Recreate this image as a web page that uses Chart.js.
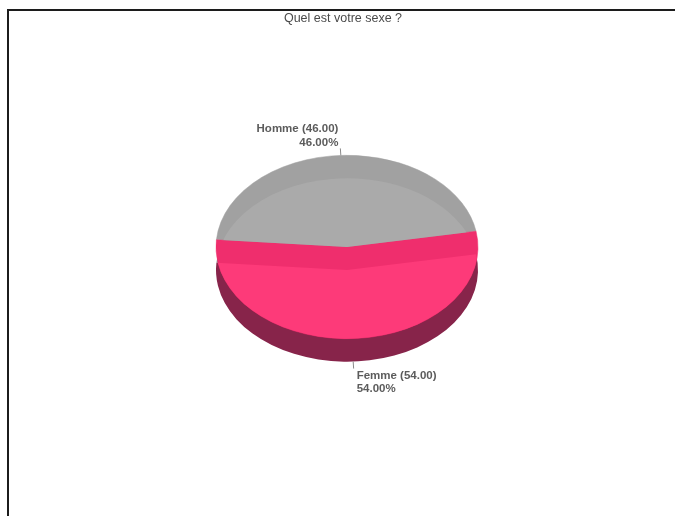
<!DOCTYPE html>
<html>
<head>
<meta charset="utf-8">
<script src="https://cdn.jsdelivr.net/npm/chart.js@4.4.0/dist/chart.umd.min.js"></script>
<style>
html,body{margin:0;padding:0;background:#fff;overflow:hidden}
#frame{position:absolute;left:7px;top:9px;width:668px;height:507px;border-top:2px solid #1c1c1c;border-left:2px solid #1c1c1c;box-sizing:border-box}
#chart{position:absolute;left:0;top:0}
</style>
</head>
<body>
<div id="frame"></div>
<canvas id="chart" width="675" height="516"></canvas>
<script>
// survey question: gender split
const title = "Quel est votre sexe ?";
const labels = ["Homme", "Femme"];
const values = [46, 54];

// face / upper rim / side wall shades per slice
const topColors = ["#aaaaaa", "#fd3a79"];
const rimColors = ["#a1a1a1", "#ef2e6d"];
const sideColors = ["#8e8e8e", "#87244a"];

const TILT = 0.70;  // vertical squash of the disc
const DEPTH = 23;   // slab thickness in px

const total = values.reduce((a,b)=>a+b, 0);

function arcProps(chart){
  return chart.getDatasetMeta(0).data.map(a => a.getProps(["x","y","startAngle","endAngle","outerRadius"]));
}

// draws the pie as a tilted slab instead of the flat arcs
const pie3d = {
  id: "pie3d",
  beforeDatasetsDraw(chart){
    const c = chart.ctx;
    const props = arcProps(chart);
    function wedge(p, dy){
      c.beginPath();
      c.moveTo(p.x, p.y + dy);
      c.ellipse(p.x, p.y + dy, p.outerRadius, p.outerRadius*TILT, 0, p.startAngle, p.endAngle);
      c.closePath();
    }
    c.save();
    // lower slab -> side walls
    props.forEach((p,i)=>{ wedge(p, DEPTH); c.fillStyle = sideColors[i]; c.fill(); });
    // upper slab -> rim
    props.forEach((p,i)=>{ wedge(p, 0); c.fillStyle = rimColors[i]; c.fill(); c.strokeStyle = rimColors[i]; c.lineWidth = 0.5; c.stroke(); });
    // face: where the two slabs overlap on the same slice
    props.forEach((p,i)=>{
      c.save();
      wedge(p, 0);
      c.clip();
      wedge(p, DEPTH);
      c.fillStyle = topColors[i];
      c.fill();
      c.restore();
    });
    c.restore();
    return false;
  },
  afterDraw(chart){
    const c = chart.ctx;
    const props = arcProps(chart);
    c.save();
    c.font = "bold 11.5px 'Liberation Sans', Arial, sans-serif";
    c.textBaseline = "middle";
    props.forEach((p,i)=>{
      const mid = (p.startAngle + p.endAngle)/2;
      const cos = Math.cos(mid), sin = Math.sin(mid);
      const upper = sin < 0;
      const ex = p.x + p.outerRadius*cos;
      const ey = p.y + (upper ? 0 : DEPTH) + p.outerRadius*TILT*sin;
      let dx = cos, dy = sin*TILT;
      const len = Math.hypot(dx, dy); dx /= len; dy /= len;
      const lx = ex + dx*7, ly = ey + dy*7;
      c.strokeStyle = "#8a8a8a";
      c.lineWidth = 1;
      c.beginPath(); c.moveTo(ex, ey); c.lineTo(lx, ly); c.stroke();

      const line1 = `${labels[i]} (${values[i].toFixed(2)})`;
      const line2 = `${(values[i]/total*100).toFixed(2)}%`;
      c.fillStyle = "#5c5c5c";
      if (upper){
        c.textAlign = "right";
        c.fillText(line1, lx - 2, ly - 20);
        c.fillText(line2, lx - 2, ly - 6);
      } else {
        c.textAlign = "left";
        c.fillText(line1, lx + 3, ly + 7);
        c.fillText(line2, lx + 3, ly + 20);
      }
    });

    c.font = "12.5px 'Liberation Sans', Arial, sans-serif";
    c.fillStyle = "#4a4a4a";
    c.textAlign = "center";
    c.fillText(title, 343, 19);
    c.restore();
  }
};

new Chart(document.getElementById("chart"), {
  type: "pie",
  data: {
    labels,
    datasets: [{ data: values, backgroundColor: topColors, borderWidth: 0 }]
  },
  options: {
    responsive: false,
    animation: false,
    events: [],
    rotation: -85.5,
    layout: { padding: { left: 216, right: 197, top: 116, bottom: 138 } },
    plugins: { legend: { display: false }, tooltip: { enabled: false }, title: { display: false } }
  },
  plugins: [pie3d]
});
</script>
</body>
</html>
